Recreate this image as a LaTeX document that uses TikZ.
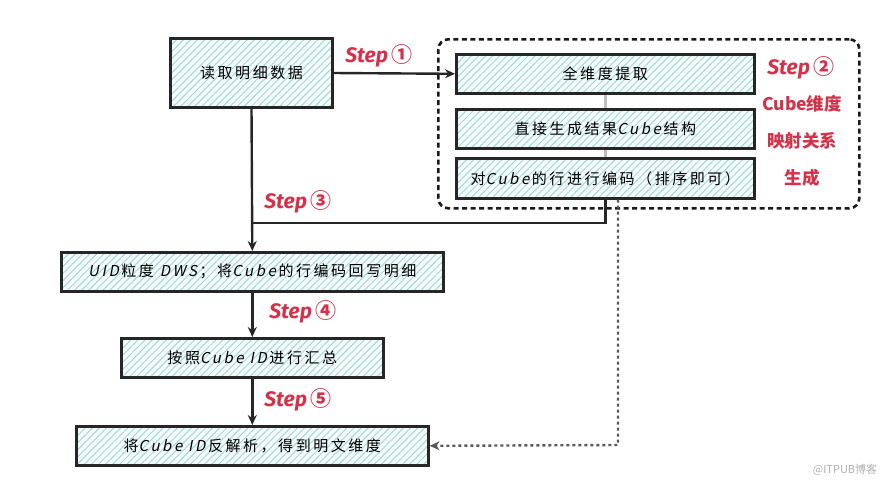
\documentclass[tikz,border=0pt]{standalone}
\usepackage{fontspec}
\setmainfont{Noto Sans CJK SC}[AutoFakeSlant=0.2]
\newfontfamily\cjk{Noto Sans CJK SC}[AutoFakeSlant=0.2]
\newfontfamily\stepfont{Fira Sans}
\usetikzlibrary{patterns.meta,arrows.meta}
\definecolor{boxbg}{HTML}{F4FBFA}
\definecolor{hatch}{HTML}{A4D9D3}
\definecolor{stepred}{HTML}{D2334A}
\definecolor{wm}{HTML}{B0B0B0}
\tikzset{
  box/.style={draw=black!85, line width=2.6pt, preaction={fill=boxbg},
    pattern={Lines[angle=45,distance=5pt,line width=1pt]}, pattern color=hatch,
    anchor=north west, inner sep=0pt, font=\fontsize{15}{17}\selectfont\addfontfeatures{LetterSpace=17}},
  arr/.style={draw=black!85, line width=2.4pt, -{Stealth[length=10pt,width=9pt]}},
  plain/.style={draw=black!85, line width=2.4pt},
  greyc/.style={draw=black!25, line width=2.5pt},
  greydash/.style={draw=black!65, line width=2.4pt, dash pattern=on 3pt off 3pt, -{Stealth[length=10pt,width=9pt]}},
  stepl/.style={text=stepred, font=\fontsize{21}{24}\selectfont},
  redl/.style={text=stepred, font=\fontsize{17.5}{20}\selectfont\bfseries},
}
\newcommand{\stp}[1]{{\stepfont\bfseries\itshape Step}\,{\cjk\bfseries #1}}
\begin{document}
\begin{tikzpicture}[x=1pt,y=-1pt]
\useasboundingbox (0,0) rectangle (890,485);
% container
\node[draw=black!90, line width=2.6pt, dash pattern=on 5pt off 3.5pt, rounded corners=10pt,
  anchor=north west, minimum width=421pt, minimum height=169pt, inner sep=0pt] (C) at (437,38) {};
% boxes
\node[box, minimum width=162pt, minimum height=69pt] (A) at (170,38) {读取明细数据};
\node[box, minimum width=298pt, minimum height=39pt] (B1) at (455,53) {全维度提取};
\node[box, minimum width=298pt, minimum height=39pt] (B2) at (455,108) {直接生成结果\textit{Cube}结构};
\node[box, minimum width=298pt, minimum height=40pt] (B3) at (455,157) {对\textit{Cube}的行进行编码（排序即可）};
\node[box, minimum width=382pt, minimum height=39pt] (U) at (60,251) {\textit{UID}粒度 \textit{DWS}；将\textit{Cube}的行编码回写明细};
\node[box, minimum width=262pt, minimum height=39pt] (P) at (120,337) {按照\textit{Cube ID}进行汇总};
\node[box, minimum width=352pt, minimum height=39pt] (L) at (75,425) {将\textit{Cube ID}反解析，得到明文维度};
% coordinates
\coordinate (join) at (251,223);
\coordinate (dcorner) at (618,445);
% connectors
\draw[arr] (A.east) -- (B1.west);
\draw[greyc] (B1.south) -- (B2.north);
\draw[greyc] (B2.south) -- (B3.north);
\draw[arr] (A.south) -- (U.north);
\draw[plain] (B3.south) -- (B3.south |- join) -- (join);
\draw[arr] (U.south) -- (P.north);
\draw[arr] (P.south) -- (L.north);
\draw[greydash] (dcorner |- B3.south) -- (dcorner) -- (L.east);
% labels
\node[stepl] (s1) at (379,56) {\stp{①}};
\node[stepl] (s2) at (801,68) {\stp{②}};
\node[redl] (r1) at (802,104) {\textit{Cube}维度};
\node[redl] (r2) at (802,141) {映射关系};
\node[redl] (r3) at (802,178) {生成};
\node[stepl] (s3) at (298,202) {\stp{③}};
\node[stepl] (s4) at (303,312) {\stp{④}};
\node[stepl] (s5) at (298,400) {\stp{⑤}};
\node[text=wm, font=\fontsize{11}{13}\selectfont] (w) at (845,470) {@ITPUB博客};
\end{tikzpicture}
\end{document}
